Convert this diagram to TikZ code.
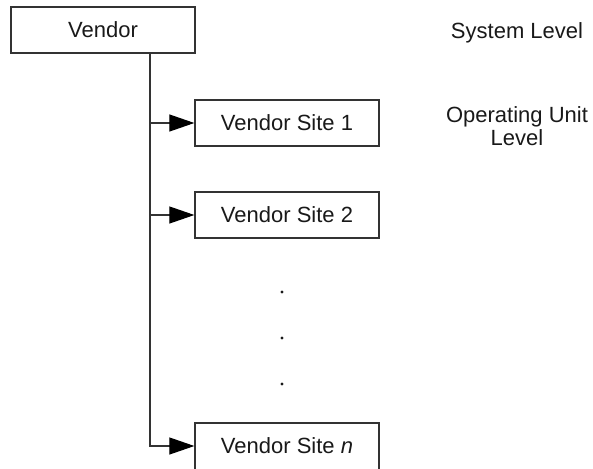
\documentclass[tikz,border=0pt]{standalone}
\usepackage{fontspec}
\setmainfont{Liberation Sans}
\usetikzlibrary{arrows.meta}
\begin{document}
\begin{tikzpicture}[x=1pt,y=-1pt]
\tikzstyle{every node}+=[inner sep=0pt,text=black!90,font=\fontsize{22}{23}\selectfont]
\tikzstyle{unit}=[draw=black!80,line width=1.3pt,minimum width=184pt,minimum height=46pt]
\tikzstyle{feed}=[draw=black!80,line width=1.1pt,-{Triangle[length=25pt,width=17pt,color=black]}]
\useasboundingbox (0,0) rectangle (593,468);
\node [unit] (vendor) at (103,30) {Vendor};
\node [unit] (site1) at (287,123) {Vendor Site 1};
\node [unit] (site2) at (287,215) {Vendor Site 2};
\node [unit,minimum height=50pt] (siten) at (287,448) {};
\node (sitentext) at (287,446) {Vendor Site \textit{n}};
\node (syslevel) at (517,33) {System Level};
\node [align=center] (oulevel) at (517,126) {Operating Unit\\Level};
\coordinate (trunk) at (150,53);
\draw [feed] (vendor.south -| trunk) |- (sitentext -| siten.west);
\draw [feed] (trunk |- site1.west) -- (site1.west);
\draw [feed] (trunk |- site2.west) -- (site2.west);
\foreach \y in {292,338,384}
  \fill [black!90] (282,\y) circle (1.7);
\end{tikzpicture}
\end{document}
